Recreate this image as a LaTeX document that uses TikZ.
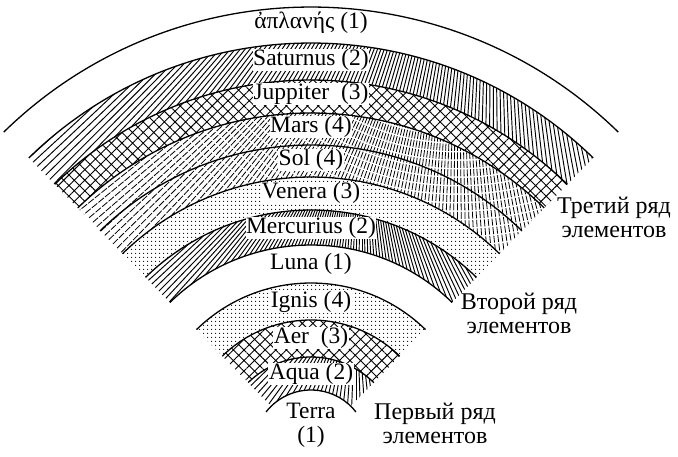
\documentclass[tikz,border=0pt]{standalone}
\usepackage{fontspec}
\setmainfont{Liberation Serif}
\usetikzlibrary{patterns.meta}

\def \wedgeAngle {44.3}
\def \rimWidth {1.3pt}

\tikzset{
  rim/.style={line width=\rimWidth},
  tag/.style={fill=white, inner sep=0.5pt, font=\fontsize{23.5}{24}\selectfont},
  rowtag/.style={align=center, inner sep=0pt, font=\fontsize{24}{24}\selectfont},
  hatchline/.style={line width=0.95pt},
  brokenline/.style={line width=0.8pt, dash pattern=on 7pt off 1.5pt},
  dotfill/.style={pattern={Dots[distance=4pt, radius=0.7pt]}},
  crossfill/.style={pattern={Hatch[angle=45, distance=7.5pt, line width=0.9pt]}},
}

% ring between two radii, cut by the wedge
\newcommand{\band}[2]{([shift={(O)}]90+\wedgeAngle:#1) arc[start angle=90+\wedgeAngle, end angle=90-\wedgeAngle, radius=#1] -- ([shift={(O)}]90-\wedgeAngle:#2) arc[start angle=90-\wedgeAngle, end angle=90+\wedgeAngle, radius=#2] -- cycle}

% fan of lines from one point, clipped to a ring
\newcommand{\fan}[5]{\begin{scope}
    \clip \band{#1}{#2};
    \foreach \a in {#4} \draw[#5] (#3) -- ++(\a:700);
  \end{scope}}

\begin{document}
\begin{tikzpicture}[x=1pt, y=1pt]
  \useasboundingbox (0,0) rectangle (678,456);
  \coordinate (O) at (311,9);

  % third row
  \fan{404}{367}{493,719}{220,220.55,...,286}{hatchline}
  \fill[crossfill] \band{367}{334};
  \fan{334}{302}{458,550}{216,216.7,...,288}{brokenline}
  \fan{302}{270}{458,550}{216,216.7,...,288}{brokenline}
  \fill[dotfill] \band{270}{237};
  \fan{237}{202}{362,368}{219,220,...,303}{hatchline}
  % second row
  \fill[dotfill] \band{164}{127};
  \fill[crossfill] \band{127}{90};
  \fan{90}{57}{356,172}{220,222,...,282}{hatchline}

  \foreach \r in {440,404,367,334,302,270,237,202,164,127,90}
    \draw[rim] ([shift={(O)}]90+\wedgeAngle:\r) arc[start angle=90+\wedgeAngle, end angle=90-\wedgeAngle, radius=\r];
  \draw[rim] ([shift={(O)}]142:57) arc[start angle=142, end angle=38, radius=57];

  \node[tag] (aplanes) at (311,433) {ἀπλανής (1)};
  \node[tag] (saturnus) at (311,396) {Saturnus (2)};
  \node[tag] (juppiter) at (311,362) {Juppiter\ \ (3)};
  \node[tag] (mars) at (311,329) {Mars (4)};
  \node[tag] (sol) at (311,296) {Sol (4)};
  \node[tag] (venera) at (311,263) {Venera (3)};
  \node[tag] (mercurius) at (311,228) {Mercurius (2)};
  \node[tag] (luna) at (311,192) {Luna (1)};
  \node[tag] (ignis) at (311,154) {Ignis (4)};
  \node[tag] (aer) at (311,118) {Aer\ \ (3)};
  \node[tag] (aqua) at (311,82) {Aqua (2)};
  \node[tag, align=center, fill=none] (terra) at (311,31) {Terra\\(1)};

  \node[rowtag] (row3) at (614,239) {Третий ряд\\элементов};
  \node[rowtag] (row2) at (519,143) {Второй ряд\\элементов};
  \node[rowtag] (row1) at (435,33) {Первый ряд\\элементов};
\end{tikzpicture}
\end{document}
